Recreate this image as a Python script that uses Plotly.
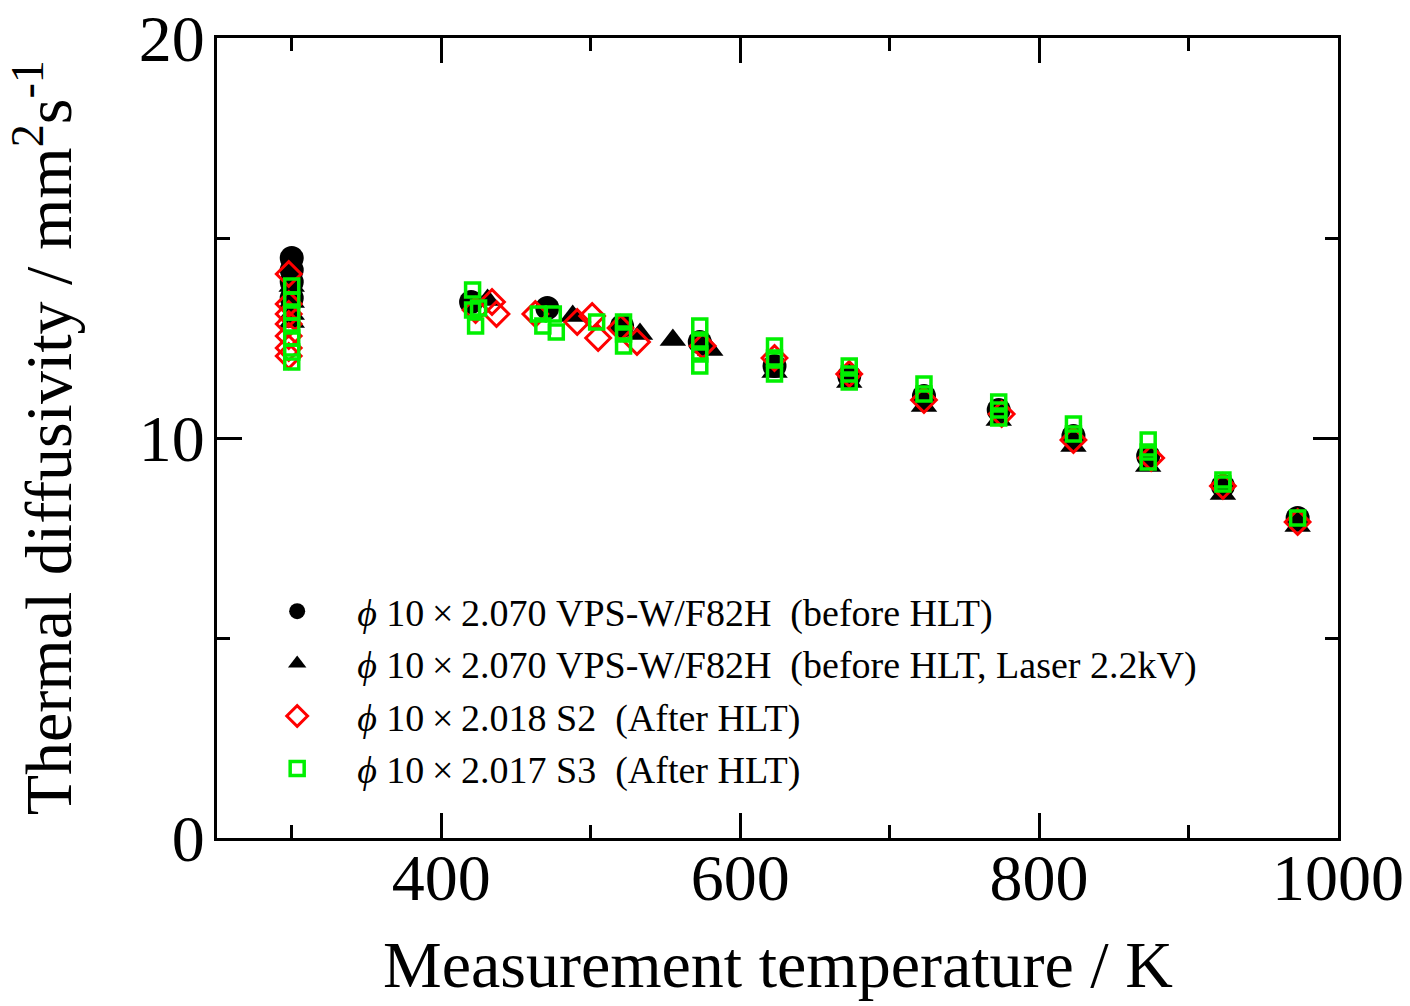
import plotly.graph_objects as go

# Thermal diffusivity (mm^2/s) vs measurement temperature (K)
circ_T = [300, 300, 300, 300, 420, 471, 521, 573, 623, 673, 723, 773, 823, 873, 923, 973]
circ_v = [14.5, 14.2, 13.9, 13.5, 13.4, 13.25, 12.8, 12.4, 11.8, 11.55, 11.05, 10.7, 10.05, 9.55, 8.8, 8.0]

tri_T = [300, 300, 300, 300, 431, 488, 533, 555, 580, 623, 673, 723, 773, 823, 873, 923, 973]
tri_v = [13.8, 13.4, 13.1, 12.9, 13.45, 13.05, 12.6, 12.45, 12.2, 11.65, 11.4, 10.8, 10.45, 9.8, 9.3, 8.6, 7.8]

dia_T = [298, 298, 298, 298, 298, 298, 298, 423, 434, 437, 463, 491, 501, 505, 520, 531,
         575, 623, 673, 723, 775, 823, 875, 923, 973]
dia_v = [14.1, 13.35, 13.1, 12.85, 12.55, 12.25, 12.05, 13.2, 13.4, 13.1, 13.1, 12.9, 13.05, 12.5, 12.75, 12.4,
         12.3, 12.0, 11.6, 10.95, 10.6, 9.95, 9.5, 8.8, 7.9]

sq_T = [300, 300, 300, 300, 300, 300, 300, 421, 421, 425, 423, 465, 468, 475, 477, 504, 522, 522, 522,
        573, 573, 573, 573, 623, 623, 623, 673, 673, 673, 723, 723, 773, 773, 773, 823, 823,
        873, 873, 873, 923, 923, 973]
sq_v = [13.8, 13.45, 13.15, 12.8, 12.5, 12.15, 11.9, 13.7, 13.2, 13.25, 12.8, 13.1, 12.8, 13.1, 12.65, 12.9,
        12.9, 12.6, 12.3, 12.8, 12.4, 12.1, 11.8, 12.3, 12.0, 11.6, 11.8, 11.6, 11.4, 11.35, 11.1,
        10.9, 10.7, 10.5, 10.35, 10.1, 9.95, 9.65, 9.4, 8.95, 8.85, 8.0]

PHI = "<i>\u03d5</i> 10\u2009\u00d7\u20092."
names = [
    PHI + "070 VPS-W/F82H \u00a0(before HLT)",
    PHI + "070 VPS-W/F82H \u00a0(before HLT, Laser 2.2kV)",
    PHI + "018 S2 \u00a0(After HLT)",
    PHI + "017 S3 \u00a0(After HLT)",
]

SERIF = "Liberation Serif, Times New Roman, serif"
GREEN = "#00f000"

fig = go.Figure()
fig.add_trace(go.Scatter(x=circ_T, y=circ_v, mode="markers", name=names[0],
                         marker=dict(symbol="circle", size=24, color="black", line=dict(width=0))))
fig.add_trace(go.Scatter(x=tri_T, y=tri_v, mode="markers", name=names[1],
                         marker=dict(symbol="triangle-up", size=23, color="black", line=dict(width=0))))
fig.add_trace(go.Scatter(x=dia_T, y=dia_v, mode="markers", name=names[2],
                         marker=dict(symbol="diamond-open", size=19, color="#ff0000", line=dict(width=3, color="#ff0000"))))
fig.add_trace(go.Scatter(x=sq_T, y=sq_v, mode="markers", name=names[3],
                         marker=dict(symbol="square-open", size=14, color=GREEN, line=dict(width=3.5, color=GREEN))))

axis_common = dict(
    showgrid=False, zeroline=False, showline=True, linecolor="black", linewidth=3,
    mirror="ticks", ticks="inside", ticklen=25, tickwidth=2.5, tickcolor="black",
    tickfont=dict(family=SERIF, size=66, color="black"), automargin=False,
)

fig.update_xaxes(range=[250, 1000], tick0=0, dtick=200, ticklabelstandoff=-20,
                 minor=dict(ticks="inside", ticklen=13, tickwidth=2.5, tickcolor="black", dtick=100, tick0=0),
                 **axis_common)
fig.update_yaxes(range=[0, 20], tick0=0, dtick=10, ticklabelstandoff=-4,
                 minor=dict(ticks="inside", ticklen=13, tickwidth=2.5, tickcolor="black", dtick=5, tick0=0),
                 **axis_common)

fig.update_layout(
    width=1410, height=1006,
    margin=dict(l=217, r=72, t=38, b=168, autoexpand=False),
    paper_bgcolor="white", plot_bgcolor="white",
    font=dict(family=SERIF, color="black"),
    showlegend=True,
    legend=dict(x=0.018, y=0.3225, xanchor="left", yanchor="top",
                bgcolor="rgba(0,0,0,0)", borderwidth=0,
                font=dict(family=SERIF, size=38, color="black"),
                itemsizing="trace", itemwidth=110, tracegroupgap=0),
    annotations=[
        dict(text="Measurement temperature / K", xref="paper", yref="paper",
             x=0.5, y=-0.158, xanchor="center", yanchor="middle", showarrow=False,
             font=dict(family=SERIF, size=66, color="black")),
        dict(text="Thermal diffusivity / mm<sup>2</sup>s<sup>-1</sup>", xref="paper", yref="paper",
             x=-0.155, y=0.5, xanchor="center", yanchor="middle", textangle=-90, showarrow=False,
             font=dict(family=SERIF, size=66, color="black")),
    ],
)

fig.write_html("out.html")
